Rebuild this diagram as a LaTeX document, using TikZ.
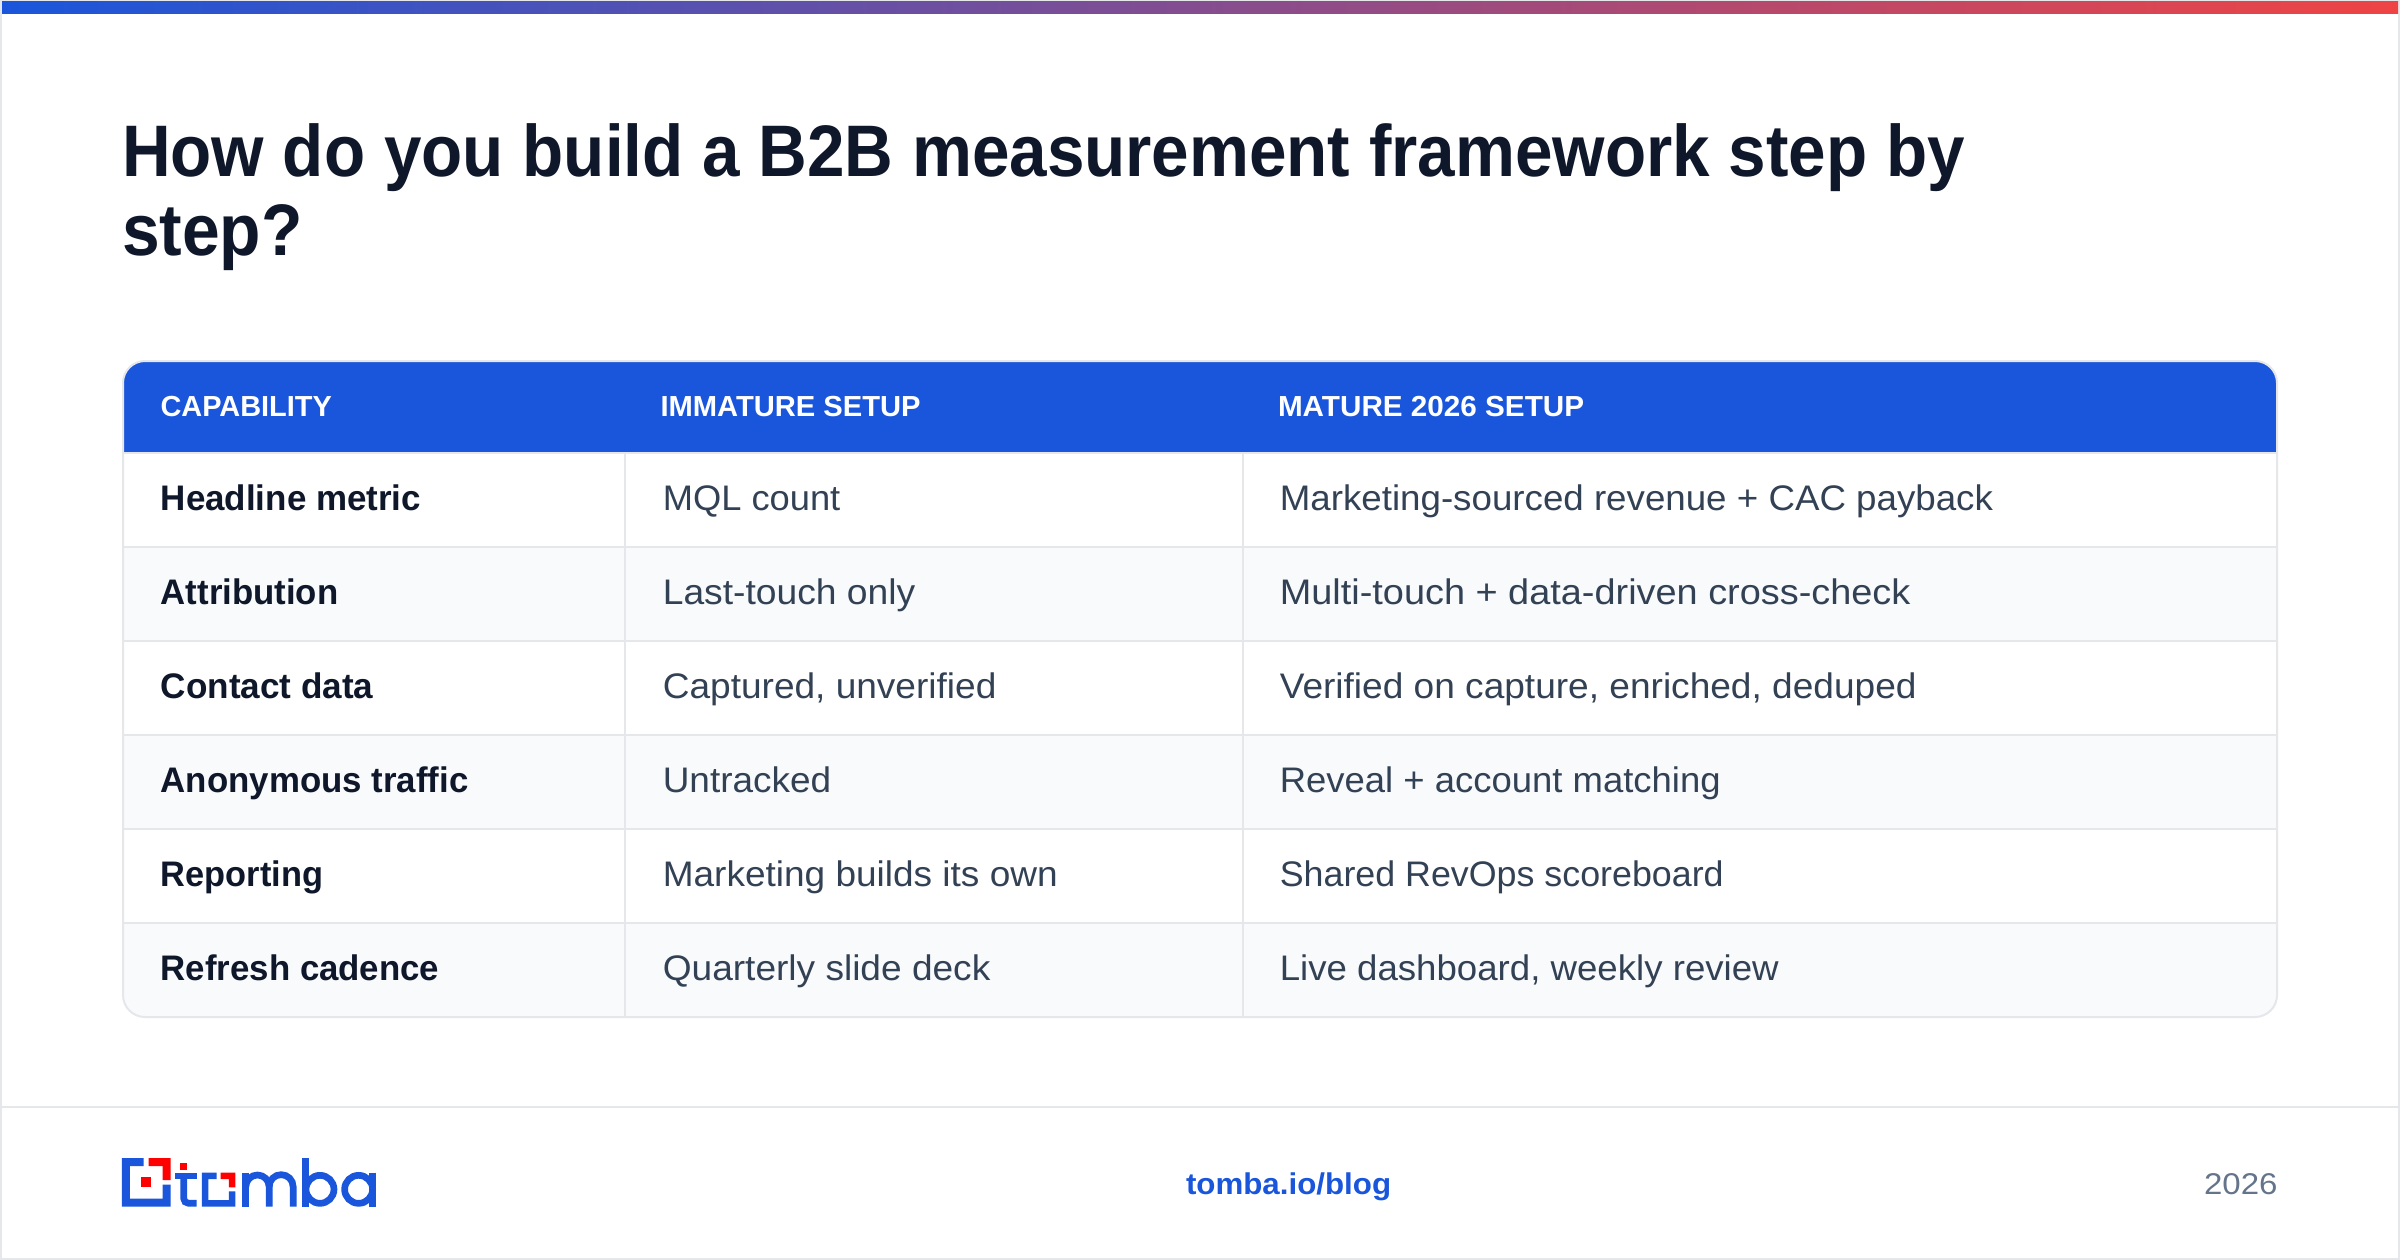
\documentclass[tikz,border=0pt]{standalone}
\usepackage{fontspec}
\usepackage{graphicx}
\setmainfont{Liberation Sans}
\definecolor{bluebrand}{HTML}{1A56DB}
\definecolor{redbrand}{HTML}{EF4444}
\definecolor{pure}{HTML}{FF0000}
\definecolor{edge}{HTML}{E5E7EB}
\definecolor{altrow}{HTML}{F8FAFC}
\definecolor{ink}{HTML}{0F172A}
\definecolor{bodyink}{HTML}{334155}
\definecolor{muted}{HTML}{64748B}
\newcommand{\fitw}[2]{\resizebox{\dimexpr #1pt*15306/10000\relax}{\height}{#2}}
\tikzset{
  txt/.style={anchor=base west,inner sep=0pt,outer sep=0pt},
  titletxt/.style={txt,text=ink,font=\fontsize{73}{73}\selectfont\bfseries},
  headtxt/.style={txt,text=white,font=\fontsize{29}{29}\selectfont\bfseries},
  labtxt/.style={txt,text=ink,font=\fontsize{35.5}{36}\selectfont\bfseries},
  celltxt/.style={txt,text=bodyink,font=\fontsize{35.5}{36}\selectfont},
  gridline/.style={draw=edge,line width=2pt},
  logostroke/.style={line width=6.7pt,bluebrand},
}
\begin{document}
\begin{tikzpicture}[x=1pt,y=-1pt]
\useasboundingbox (0,0) rectangle (2400,1260);
\fill[white] (0,0) rectangle (2400,1260);
\draw[edge,line width=2pt] (1,1) rectangle (2399,1259);
\shade[left color=bluebrand,right color=redbrand,draw=none] (2,2) rectangle (2398,14);
% title
\node[titletxt] (t1) at (122,176.3) {\fitw{1204}{How do you build a B2B measurement framework step by}};
\node[titletxt] (t2) at (122,255.5) {\fitw{118}{step?}};
% table
\begin{scope}
\clip[rounded corners=22pt] (123,361) rectangle (2277,1017);
\fill[white] (123,361) rectangle (2277,1017);
\fill[altrow] (123,547) rectangle (2277,641);
\fill[altrow] (123,735) rectangle (2277,829);
\fill[altrow] (123,923) rectangle (2277,1017);
\fill[bluebrand] (123,361) rectangle (2277,452);
\end{scope}
\draw[gridline] (123,452.5) -- (2277,452.5);
\foreach \yy in {547,641,735,829,923} \draw[gridline] (123,\yy) -- (2277,\yy);
\foreach \xx in {624.5,1243} \draw[gridline] (\xx,453) -- (\xx,1017);
\draw[gridline,rounded corners=22pt] (123,361) rectangle (2277,1017);
% header
\node[headtxt] (h1) at (160.5,416) {\fitw{112}{CAPABILITY}};
\node[headtxt] (h2) at (660.5,416) {\fitw{170}{IMMATURE SETUP}};
\node[headtxt] (h3) at (1278,416) {\fitw{200}{MATURE 2026 SETUP}};
% rows
\node[labtxt] (a1) at (160.8,510.7) {\fitw{170}{Headline metric}};
\node[labtxt] (a2) at (160.8,604.5) {\fitw{116}{Attribution}};
\node[labtxt] (a3) at (160.8,698.5) {\fitw{139}{Contact data}};
\node[labtxt] (a4) at (160.8,792.5) {\fitw{201}{Anonymous traffic}};
\node[labtxt] (a5) at (160.8,886.5) {\fitw{106}{Reporting}};
\node[labtxt] (a6) at (160.8,980.3) {\fitw{182}{Refresh cadence}};
\node[celltxt] (b1) at (662.8,510.7) {\fitw{116}{MQL count}};
\node[celltxt] (b2) at (662.8,604.5) {\fitw{165}{Last-touch only}};
\node[celltxt] (b3) at (662.8,698.5) {\fitw{218}{Captured, unverified}};
\node[celltxt] (b4) at (662.8,792.5) {\fitw{110}{Untracked}};
\node[celltxt] (b5) at (662.8,886.5) {\fitw{258}{Marketing builds its own}};
\node[celltxt] (b6) at (662.8,980.3) {\fitw{214}{Quarterly slide deck}};
\node[celltxt] (c1) at (1279.8,510.7) {\fitw{466}{Marketing-sourced revenue + CAC payback}};
\node[celltxt] (c2) at (1279.8,604.5) {\fitw{412}{Multi-touch + data-driven cross-check}};
\node[celltxt] (c3) at (1279.8,698.5) {\fitw{416}{Verified on capture, enriched, deduped}};
\node[celltxt] (c4) at (1279.8,792.5) {\fitw{288}{Reveal + account matching}};
\node[celltxt] (c5) at (1279.8,886.5) {\fitw{290}{Shared RevOps scoreboard}};
\node[celltxt] (c6) at (1279.8,980.3) {\fitw{326}{Live dashboard, weekly review}};
% footer
\draw[gridline] (2,1106.7) -- (2398,1106.7);
\node[txt,text=bluebrand,font=\fontsize{30}{30}\selectfont\bfseries] (link) at (1186,1194) {\fitw{134}{tomba.io/blog}};
\node[txt,text=muted,font=\fontsize{30}{30}\selectfont] (year) at (2204,1194) {\fitw{48}{2026}};
% logo (coordinates in a 3x grid)
\begin{scope}[shift={(100,1120)},x=0.3333pt,y=-0.3333pt]
\fill[bluebrand] (66,114) -- (131,114) -- (131,138) -- (90,138) -- (90,236) -- (188,236) -- (188,194) -- (212,194) -- (212,260) -- (66,260) -- cycle;
\fill[pure] (146,114) -- (212,114) -- (212,180) -- (188,180) -- (188,138) -- (146,138) -- cycle;
\fill[pure] (124,172) rectangle (153,201);
\fill[pure] (240,128) rectangle (262,150);
\fill[bluebrand] (226,158) rectangle (290,177);
\draw[line width=6.7pt,bluebrand,rounded corners=5pt] (251,170) -- (251,250) -- (290,250);
\fill[bluebrand] (306,158) -- (350,158) -- (350,177) -- (325,177) -- (325,240) -- (387,240) -- (387,214) -- (406,214) -- (406,260) -- (306,260) -- cycle;
\fill[pure] (362,158) -- (406,158) -- (406,202) -- (387,202) -- (387,177) -- (362,177) -- cycle;
% m
\draw[logostroke] (437.5,158) -- (437.5,260);
\draw[logostroke] (437.5,200) arc[start angle=180,end angle=360,radius=35] -- (507.5,260);
\draw[logostroke] (507.5,200) arc[start angle=180,end angle=360,radius=36] -- (579.5,260);
% b
\draw[logostroke] (616.5,114) -- (616.5,260);
\draw[logostroke] (660,208) circle[radius=42];
% a
\draw[logostroke] (776,208) circle[radius=42];
\draw[logostroke] (818,158) -- (818,260);
\end{scope}
\end{tikzpicture}
\end{document}
